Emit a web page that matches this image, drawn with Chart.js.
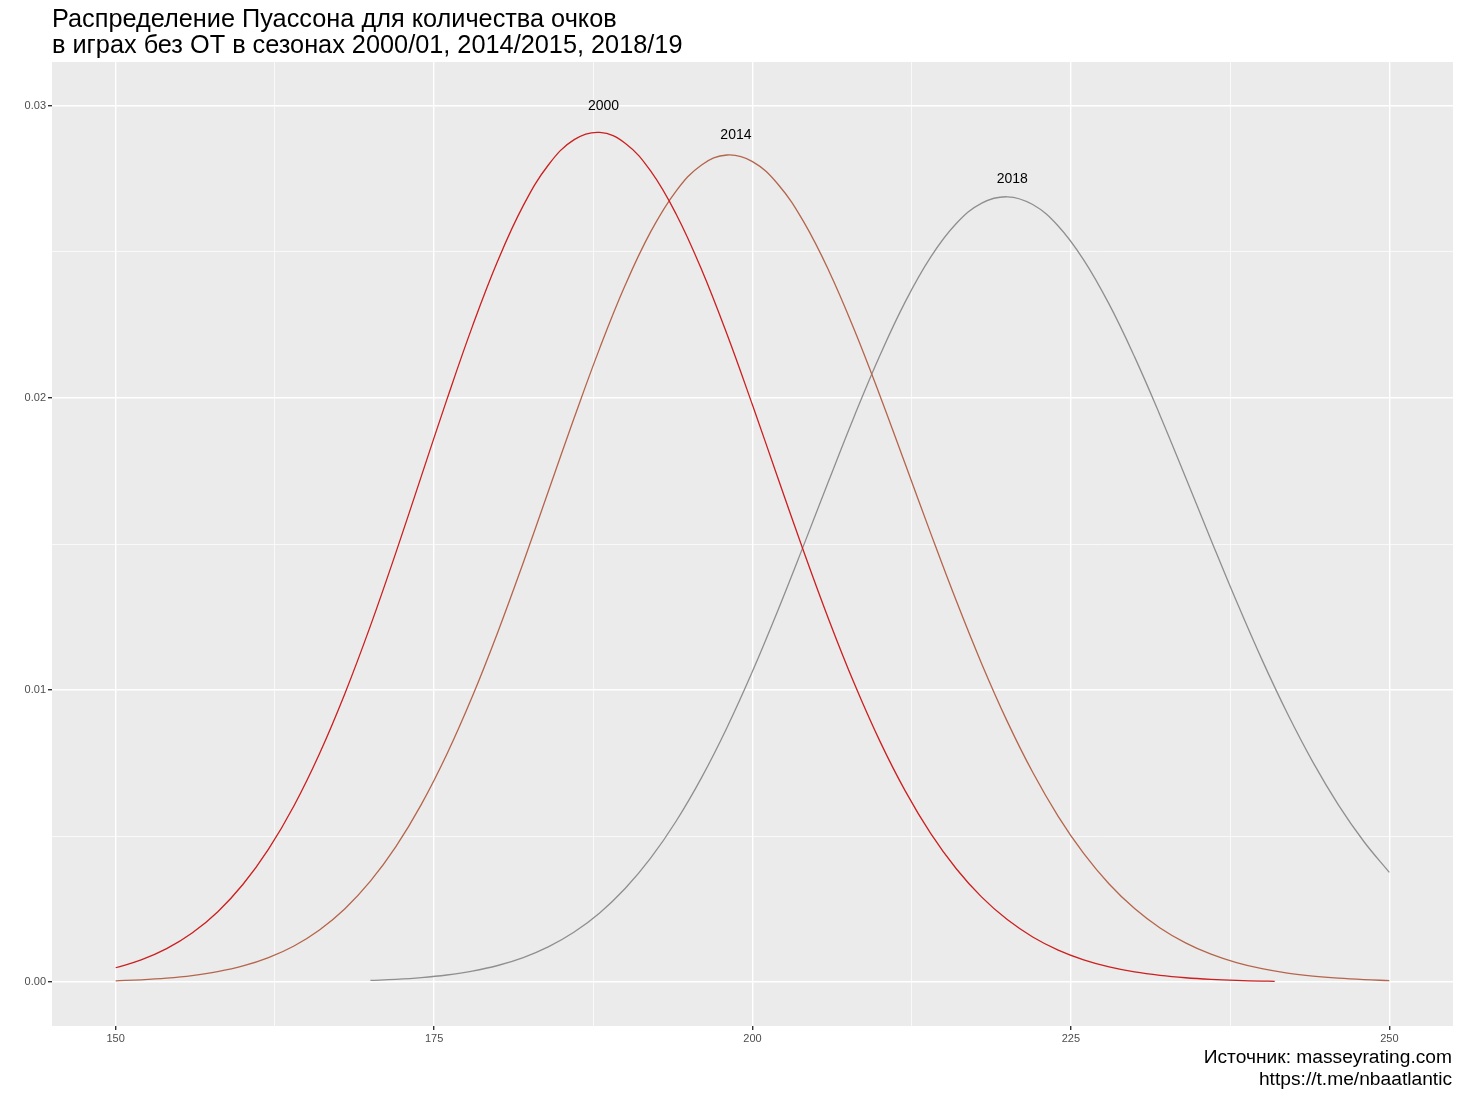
<!DOCTYPE html>
<html>
<head>
<meta charset="utf-8">
<script src="https://cdn.jsdelivr.net/npm/chart.js@4/dist/chart.umd.min.js"></script>
<style>
  html, body { margin: 0; padding: 0; background: #ffffff; }
  #wrap { position: relative; width: 1460px; height: 1095px; }
  #c { position: absolute; left: 0; top: 0; }
  .title { position: absolute; left: 52px; top: 5px; font-family: "Liberation Sans", Arial, sans-serif; font-size: 25.3px; line-height: 26px; color: #000; white-space: nowrap; }
  .caption { position: absolute; right: 8px; top: 1046px; font-family: "Liberation Sans", Arial, sans-serif; font-size: 19.2px; line-height: 22px; color: #000; text-align: right; white-space: nowrap; }
</style>
</head>
<body>
<div id="wrap">
  <canvas id="c" width="1460" height="1095"></canvas>
  <div class="title">Распределение Пуассона для количества очков<br>в играх без ОТ в сезонах 2000/01, 2014/2015, 2018/19</div>
  <div class="caption">Источник: masseyrating.com<br>https://t.me/nbaatlantic</div>
</div>
<script>
// ---- data ----
const seriesNames = ["2000", "2014", "2018"];

const x2000 = [150,152,154,156,158,160,162,164,166,168,170,172,174,176,178,180,182,184,186,188,190,192,194,196,198,200,202,204,206,208,210,212,214,216,218,220,222,224,226,228,230,232,234,236,238,240,241];
const y2000 = [0.000494,0.000763,0.001147,0.001682,0.002405,0.003352,0.004555,0.006042,0.007822,0.009885,0.012198,0.014706,0.017323,0.019942,0.022442,0.024696,0.026582,0.027991,0.028842,0.029089,0.028722,0.027770,0.026298,0.024396,0.022177,0.019756,0.017253,0.014772,0.012402,0.010214,0.008251,0.006540,0.005087,0.003884,0.002911,0.002142,0.001548,0.001099,0.000766,0.000525,0.000353,0.000234,0.000152,0.0000972,0.0000611,0.0000378,0.0000295];

const x2014 = [150,152,154,156,158,160,162,164,166,168,170,172,174,176,178,180,182,184,186,188,190,192,194,196,198,200,202,204,206,208,210,212,214,216,218,220,222,224,226,228,230,232,234,236,238,240,242,244,246,248,250];
const y2014 = [0.0000478,0.0000823,0.000138,0.000225,0.000358,0.000555,0.000840,0.001240,0.001788,0.002516,0.003457,0.004640,0.006086,0.007802,0.009777,0.011981,0.014360,0.016838,0.019320,0.021697,0.023855,0.025683,0.027082,0.027976,0.028317,0.028091,0.027316,0.026043,0.024348,0.022327,0.020084,0.017727,0.015355,0.013054,0.010895,0.008928,0.007185,0.005679,0.004409,0.003363,0.002521,0.001857,0.001345,0.000957,0.000670,0.000461,0.000312,0.000208,0.000136,0.0000877,0.0000556];

const x2018 = [170,172,174,176,178,180,182,184,186,188,190,192,194,196,198,200,202,204,206,208,210,212,214,216,218,220,222,224,226,228,230,232,234,236,238,240,242,244,246,248,250];
const y2018 = [0.0000585,0.0000967,0.000156,0.000246,0.000379,0.000571,0.000842,0.001215,0.001715,0.002370,0.003206,0.004246,0.005509,0.007002,0.008720,0.010643,0.012733,0.014936,0.017181,0.019384,0.021454,0.023298,0.024828,0.025970,0.026667,0.026886,0.026620,0.025887,0.024729,0.023210,0.021406,0.019403,0.017287,0.015141,0.013039,0.011042,0.009197,0.007535,0.006073,0.004816,0.003758];

const labelX = [188.3, 198.7, 220.4];
const labelY = [0.0300, 0.0290, 0.0275];

const xMajorTicks = [150, 175, 200, 225, 250];
const xMinorTicks = [162.5, 187.5, 212.5, 237.5];
const yMajorTicks = [0, 0.01, 0.02, 0.03];
const yMinorTicks = [0.005, 0.015, 0.025];

const colors = ["#CC1F1F", "#B5654B", "#8F8F8F"];

// ---- build ----
function pts(xs, ys) { return xs.map((x, i) => ({ x: x, y: ys[i] })); }

const panelBg = {
  id: 'panelBg',
  beforeDraw(chart) {
    const a = chart.chartArea, ctx = chart.ctx;
    ctx.save();
    ctx.fillStyle = '#EBEBEB';
    ctx.fillRect(a.left, a.top, a.right - a.left, a.bottom - a.top);
    ctx.restore();
  }
};

const textLabels = {
  id: 'textLabels',
  afterDatasetsDraw(chart) {
    const ctx = chart.ctx, xs = chart.scales.x, ys = chart.scales.y;
    ctx.save();
    ctx.font = '14px "Liberation Sans", Arial, sans-serif';
    ctx.fillStyle = '#000';
    ctx.textAlign = 'center';
    ctx.textBaseline = 'middle';
    seriesNames.forEach((n, i) => {
      ctx.fillText(n, xs.getPixelForValue(labelX[i]), ys.getPixelForValue(labelY[i]));
    });
    ctx.restore();
  }
};

const isMajor = (v, majors) => majors.some(m => Math.abs(m - v) < 1e-9);

new Chart(document.getElementById('c'), {
  type: 'line',
  data: {
    datasets: [
      { label: seriesNames[0], data: pts(x2000, y2000), borderColor: colors[0] },
      { label: seriesNames[1], data: pts(x2014, y2014), borderColor: colors[1] },
      { label: seriesNames[2], data: pts(x2018, y2018), borderColor: colors[2] }
    ].map(d => Object.assign(d, { borderWidth: 1.3, pointRadius: 0, tension: 0.4, fill: false }))
  },
  options: {
    responsive: false,
    animation: false,
    devicePixelRatio: 1,
    layout: { padding: { top: 62, right: 7, bottom: 49, left: 0 } },
    plugins: { legend: { display: false }, tooltip: { enabled: false }, title: { display: false } },
    scales: {
      x: {
        type: 'linear', min: 145, max: 255,
        afterBuildTicks(s) { s.ticks = xMajorTicks.concat(xMinorTicks).sort((a, b) => a - b).map(v => ({ value: v })); },
        afterFit(s) { s.height = 20; },
        border: { display: false },
        grid: {
          color: '#FFFFFF',
          lineWidth: c => isMajor(c.tick.value, xMajorTicks) ? 1.4 : 0.7,
          tickColor: c => isMajor(c.tick.value, xMajorTicks) ? '#333333' : 'rgba(0,0,0,0)',
          tickLength: 4,
          drawTicks: true
        },
        ticks: {
          autoSkip: false, maxRotation: 0, padding: 2,
          color: '#4D4D4D',
          font: { family: '"Liberation Sans", Arial, sans-serif', size: 11 },
          callback: v => isMajor(v, xMajorTicks) ? String(v) : ''
        }
      },
      y: {
        type: 'linear', min: -0.0015, max: 0.0315,
        afterBuildTicks(s) { s.ticks = yMajorTicks.concat(yMinorTicks).sort((a, b) => a - b).map(v => ({ value: v })); },
        afterFit(s) { s.width = 52; },
        border: { display: false },
        grid: {
          color: '#FFFFFF',
          lineWidth: c => isMajor(c.tick.value, yMajorTicks) ? 1.4 : 0.7,
          tickColor: c => isMajor(c.tick.value, yMajorTicks) ? '#333333' : 'rgba(0,0,0,0)',
          tickLength: 4,
          drawTicks: true
        },
        ticks: {
          autoSkip: false, padding: 2,
          color: '#4D4D4D',
          font: { family: '"Liberation Sans", Arial, sans-serif', size: 11 },
          callback: v => isMajor(v, yMajorTicks) ? v.toFixed(2) : ''
        }
      }
    }
  },
  plugins: [panelBg, textLabels]
});
</script>
</body>
</html>
